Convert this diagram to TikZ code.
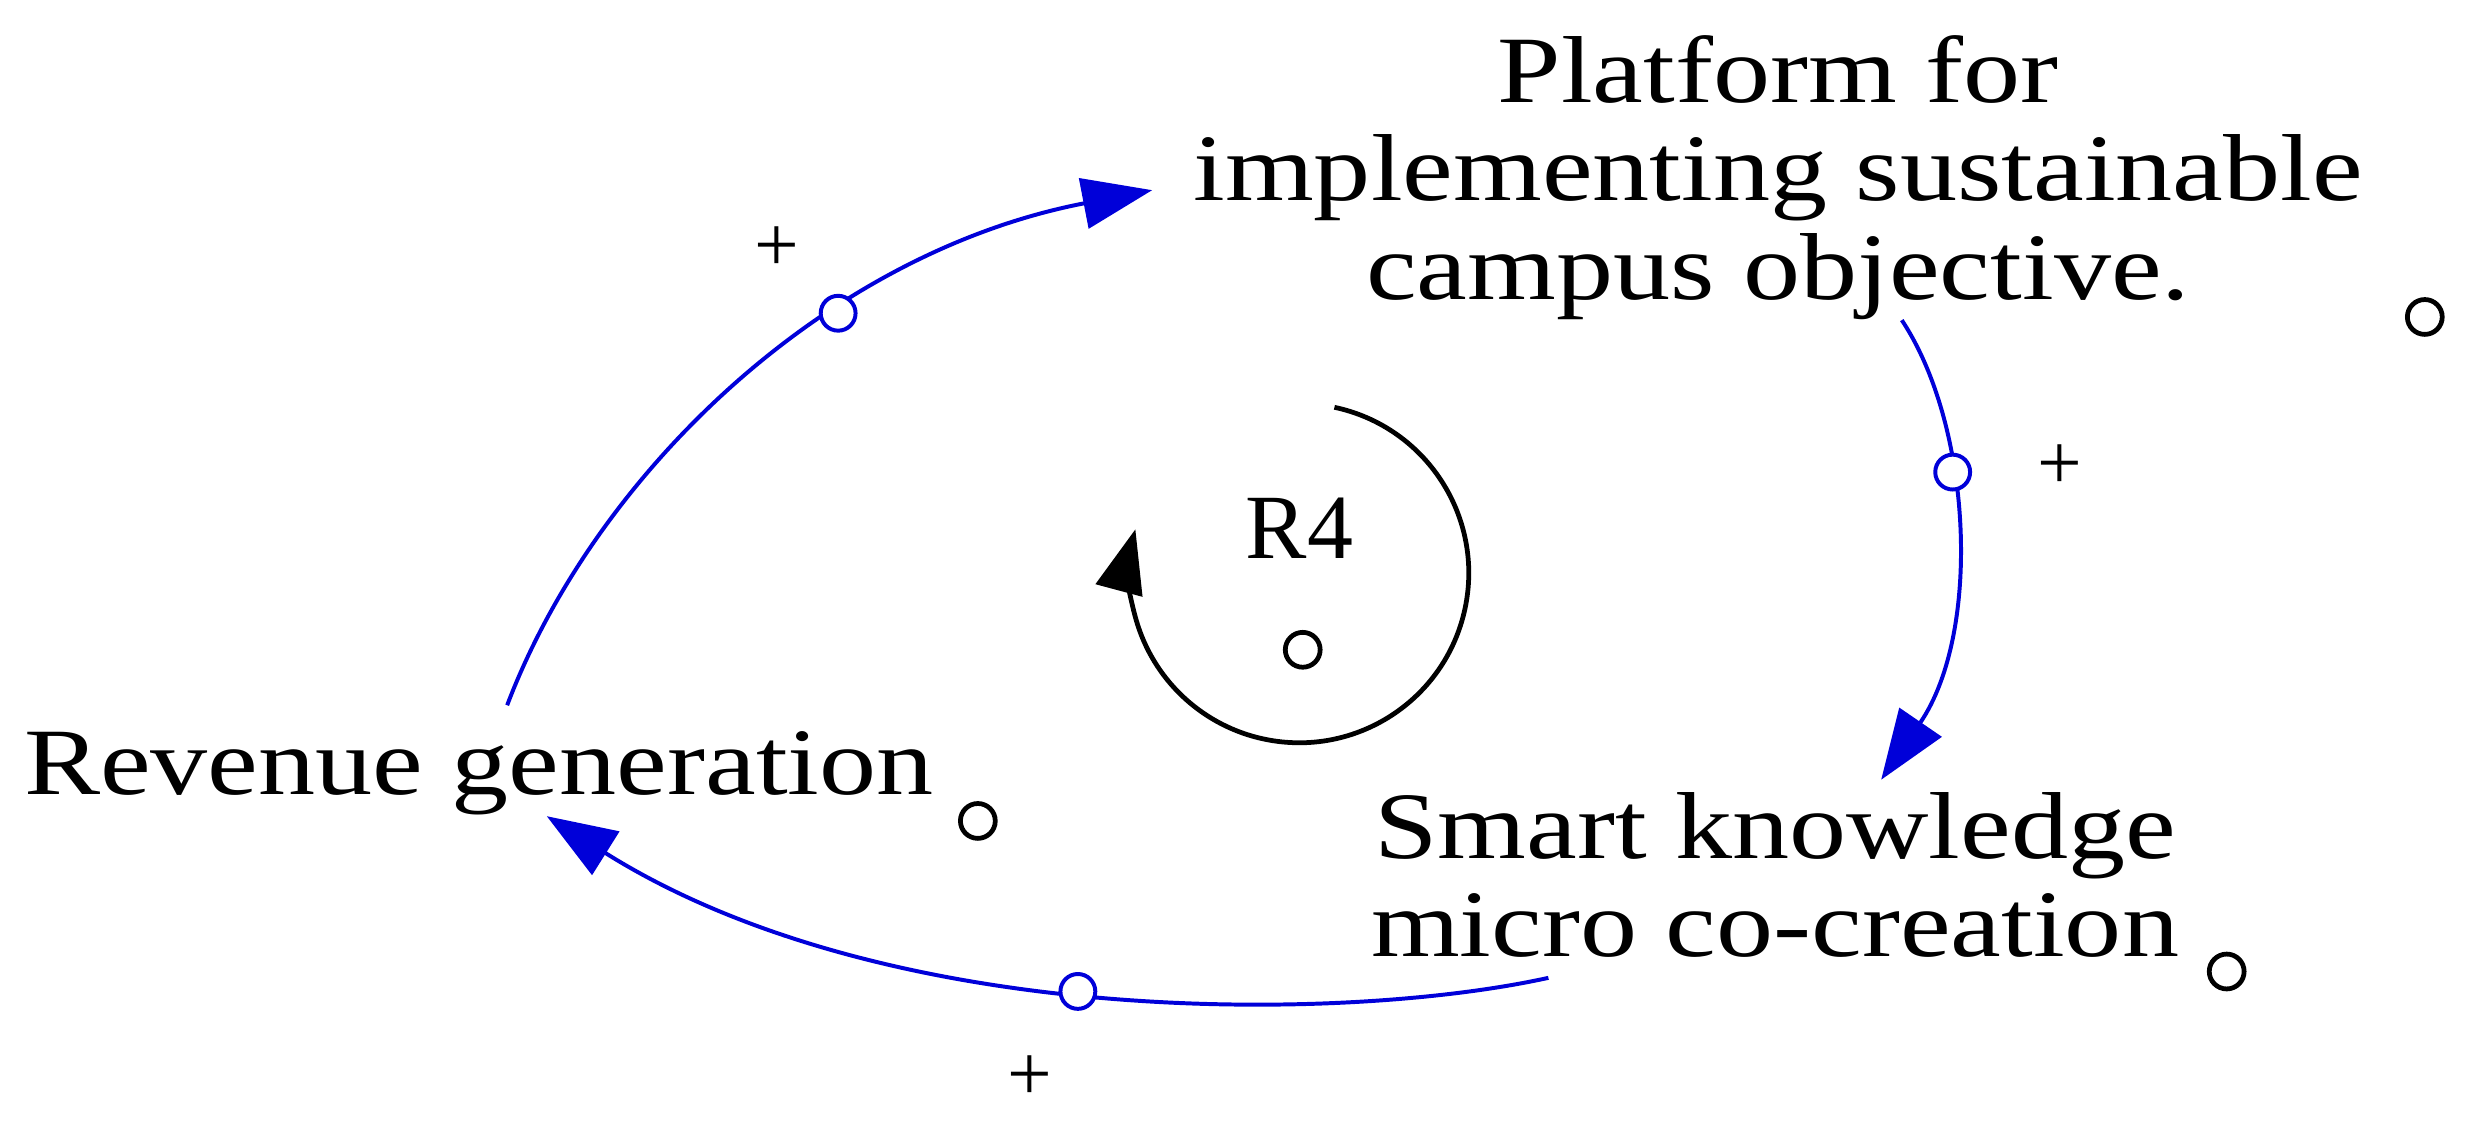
\documentclass[tikz,border=0pt]{standalone}
\usetikzlibrary{arrows.meta}
\usepackage{fontspec}
\setmainfont{Liberation Serif}
\begin{document}
\begin{tikzpicture}[x=1pt,y=-1pt,
  lbl/.style={font=\fontsize{60}{62}\selectfont,align=center,inner sep=0,xscale=1.2},
  link/.style={draw=blue!85!black,line width=2.5pt,-{Triangle[length=44pt,width=32pt]}},
  bdot/.style={circle,draw=blue!85!black,fill=white,line width=2.5pt,minimum size=22pt,inner sep=0},
  kdot/.style={circle,draw=black,fill=white,line width=3pt,minimum size=22pt,inner sep=0},
  sgn/.style={font=\fontsize{50}{54}\selectfont,inner sep=0}]
\useasboundingbox (0,0) rectangle (1568,712);
\node[lbl] (plat) at (1122,112) {Platform for\\implementing sustainable\\campus objective.};
\node[lbl,anchor=west] (rev) at (15,488) {Revenue generation};
\node[lbl] (smart) at (1120,552) {Smart knowledge\\micro co-creation};
\node[kdot] (k1) at (1530,200) {};
\node[kdot] (k2) at (617,518) {};
\node[kdot] (k3) at (1405,613) {};
\node[font=\fontsize{58}{60}\selectfont] (r4) at (820,333) {R4};
\coordinate (a1) at (320,445);
\coordinate (a2) at (727,120);
\coordinate (b1) at (1200,202);
\coordinate (b2) at (1187,492);
\coordinate (c1) at (977,617);
\coordinate (c2) at (345,515);
\draw[link] (a1) .. controls (375,300) and (520,160) .. node[bdot,pos=0.64]{} (a2);
\draw[link] (b1) .. controls (1245,270) and (1250,400) .. node[bdot,pos=0.37]{} (b2);
\draw[link] (c1) .. controls (850,645) and (560,650) .. node[bdot,pos=0.52]{} (c2);
\draw[line width=3pt,-{Triangle[length=40pt,width=30pt]}] (842,257) arc[start angle=-78,end angle=195,radius=107];
\node[kdot] (k4) at (822,410) {};
\node[sgn] at (490,157) {+};
\node[sgn] at (1300,295) {+};
\node[sgn] at (650,680) {+};
\end{tikzpicture}
\end{document}
